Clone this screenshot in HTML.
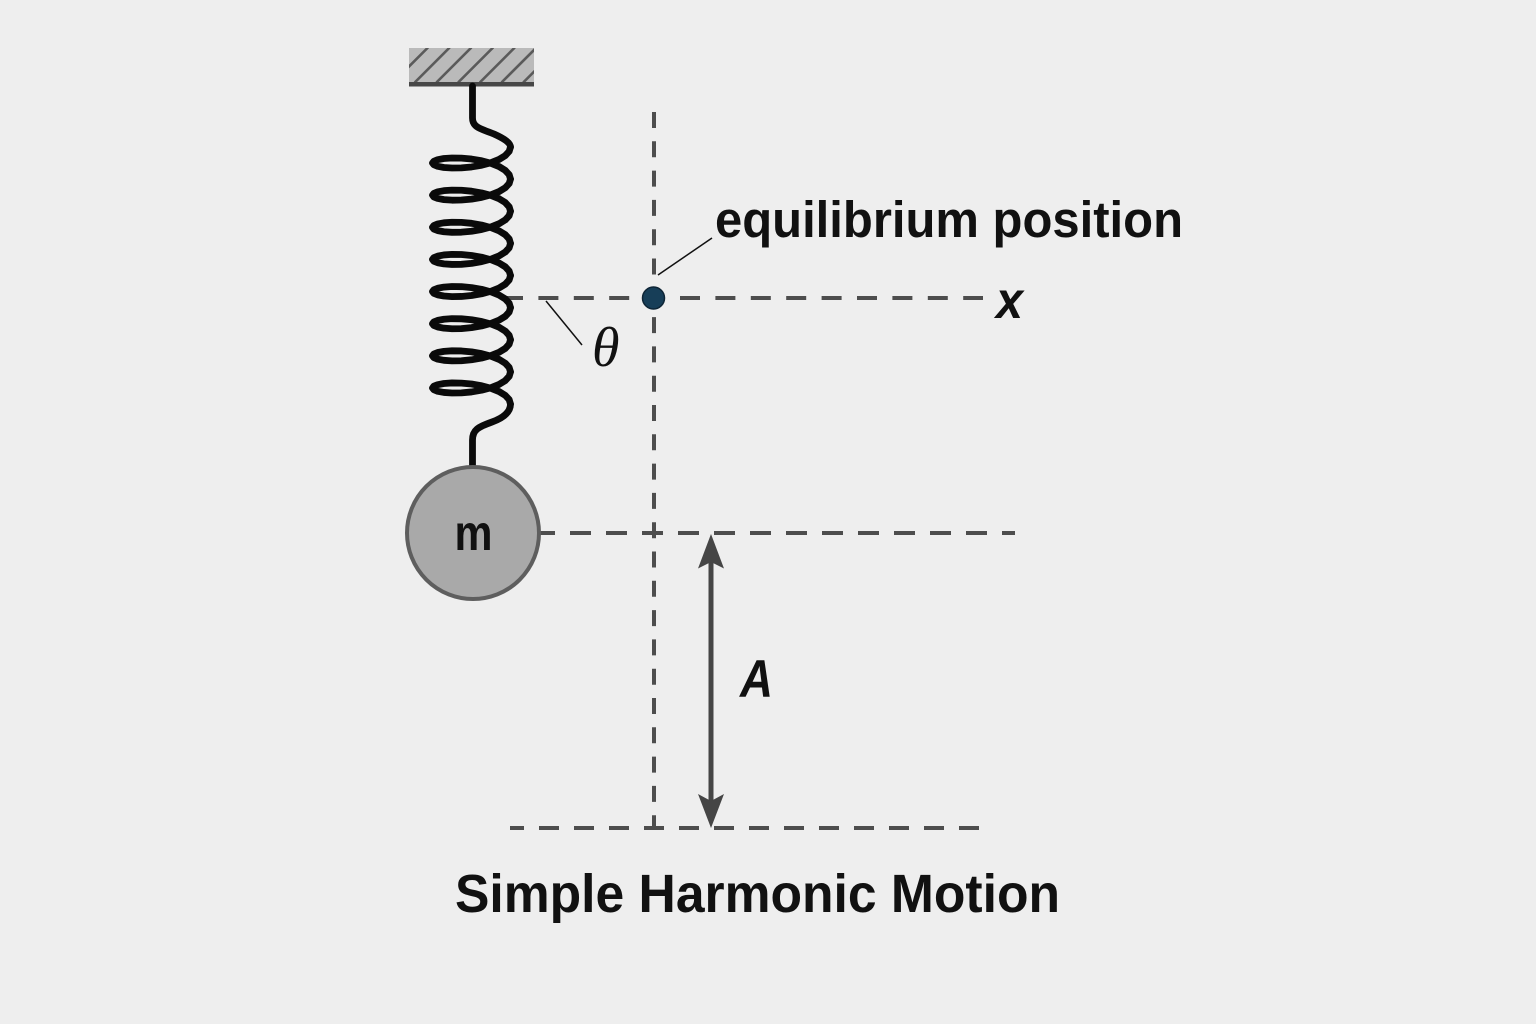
<!DOCTYPE html>
<html>
<head>
<meta charset="utf-8">
<style>
  html,body{margin:0;padding:0;background:#eeeeee;}
  svg{display:block;}
</style>
</head>
<body>
<svg width="1536" height="1024" viewBox="0 0 1536 1024" xmlns="http://www.w3.org/2000/svg">
  <defs>
    <clipPath id="blk"><rect x="409" y="48" width="125" height="34"/></clipPath>
    <path id="coil" fill="none" stroke="#0a0a0a" stroke-width="6.8" stroke-linejoin="round" stroke-linecap="round"
      d="M510.5,-16.07 L509.17,-11.63 L505.27,-7.39 L499.08,-3.57 L491,-0.32 L481.59,2.22 L471.5,3.96 L461.41,4.89 L452,5.03 L443.92,4.47 L437.73,3.32 L433.83,1.77 L432.5,0 L433.83,-1.77 L437.73,-3.32 L443.92,-4.47 L452,-5.03 L461.41,-4.89 L471.5,-3.96 L481.59,-2.22 L491,0.32 L499.08,3.57 L505.27,7.39 L509.17,11.63 L510.5,16.07"/>
  </defs>

  <rect x="0" y="0" width="1536" height="1024" fill="#eeeeee"/>

  <!-- ceiling block -->
  <rect x="409" y="48" width="125" height="34" fill="#bababa"/>
  <g clip-path="url(#blk)" stroke="#5a5a5a" stroke-width="2.6" stroke-linecap="round">
    <line x1="393.5" y1="82" x2="427.5" y2="48"/>
    <line x1="415.2" y1="82" x2="449.2" y2="48"/>
    <line x1="436.9" y1="82" x2="470.9" y2="48"/>
    <line x1="458.6" y1="82" x2="492.6" y2="48"/>
    <line x1="480.3" y1="82" x2="514.3" y2="48"/>
    <line x1="502" y1="82" x2="536" y2="48"/>
    <line x1="523.7" y1="82" x2="557.7" y2="48"/>
  </g>
  <rect x="409" y="82" width="125" height="4.5" fill="#474747"/>

  <!-- dashed guide lines -->
  <g stroke="#4d4d4d" stroke-width="4" fill="none">
    <line x1="654" y1="112" x2="654" y2="828" stroke-dasharray="16 13.3"/>
    <line x1="503" y1="298" x2="983" y2="298" stroke-dasharray="20 15.4"/>
    <line x1="534" y1="533" x2="1015" y2="533" stroke-dasharray="21 15"/>
    <line x1="510" y1="828" x2="983" y2="828" stroke-dasharray="20 15" stroke-dashoffset="6"/>
  </g>

  <!-- spring -->
  <path d="M472.5,86 L472.5,118 C472.5,128 482,129 494,134 C505,139 510.5,143 510.5,147.2" fill="none" stroke="#0a0a0a" stroke-width="6.8" stroke-linecap="round" stroke-linejoin="round"/>
  <use href="#coil" transform="translate(0,163)"/>
  <use href="#coil" transform="translate(0,195.14)"/>
  <use href="#coil" transform="translate(0,227.28)"/>
  <use href="#coil" transform="translate(0,259.42)"/>
  <use href="#coil" transform="translate(0,291.56)"/>
  <use href="#coil" transform="translate(0,323.7)"/>
  <use href="#coil" transform="translate(0,355.84)"/>
  <use href="#coil" transform="translate(0,387.98)"/>
  <path d="M510.5,404 C510.5,412 503,418 492,422 C478,427 472.5,430 472.5,440 L472.5,468" fill="none" stroke="#0a0a0a" stroke-width="6.8" stroke-linecap="round" stroke-linejoin="round"/>

  <!-- mass -->
  <circle cx="473" cy="533" r="66" fill="#a9a9a9" stroke="#5e5e5e" stroke-width="4"/>
  <text x="473.5" y="550" text-anchor="middle" font-family="Liberation Sans, Arial, sans-serif" font-weight="bold" font-size="50" fill="#111" textLength="38" lengthAdjust="spacingAndGlyphs">m</text>

  <!-- equilibrium dot -->
  <circle cx="653.5" cy="298" r="11" fill="#173e58" stroke="#0e2536" stroke-width="1.5"/>

  <!-- leader lines -->
  <line x1="658" y1="275" x2="712" y2="238" stroke="#111" stroke-width="1.5"/>
  <line x1="546" y1="301" x2="582" y2="345" stroke="#111" stroke-width="1.5"/>

  <!-- amplitude arrow -->
  <line x1="711" y1="560" x2="711" y2="802" stroke="#454545" stroke-width="5"/>
  <polygon points="711,534 724,568.5 711,562 698,568.5" fill="#454545"/>
  <polygon points="711,828 724,794 711,801 698,794" fill="#454545"/>

  <!-- labels -->
  <text x="715" y="237" font-family="Liberation Sans, Arial, sans-serif" font-weight="bold" font-size="51" fill="#111" textLength="468" lengthAdjust="spacingAndGlyphs">equilibrium position</text>
  <text x="996" y="318" font-family="Liberation Sans, Arial, sans-serif" font-weight="bold" font-style="italic" font-size="52" fill="#111" textLength="27" lengthAdjust="spacingAndGlyphs">x</text>
  <text x="592" y="366" font-family="Liberation Serif, Times New Roman, serif" font-style="italic" font-size="56" fill="#111">θ</text>
  <text x="740" y="697" font-family="Liberation Sans, Arial, sans-serif" font-weight="bold" font-style="italic" font-size="53" fill="#111" textLength="33" lengthAdjust="spacingAndGlyphs">A</text>
  <text x="455" y="912" font-family="Liberation Sans, Arial, sans-serif" font-weight="bold" font-size="53.5" fill="#111" textLength="605" lengthAdjust="spacingAndGlyphs">Simple Harmonic Motion</text>
</svg>
</body>
</html>
